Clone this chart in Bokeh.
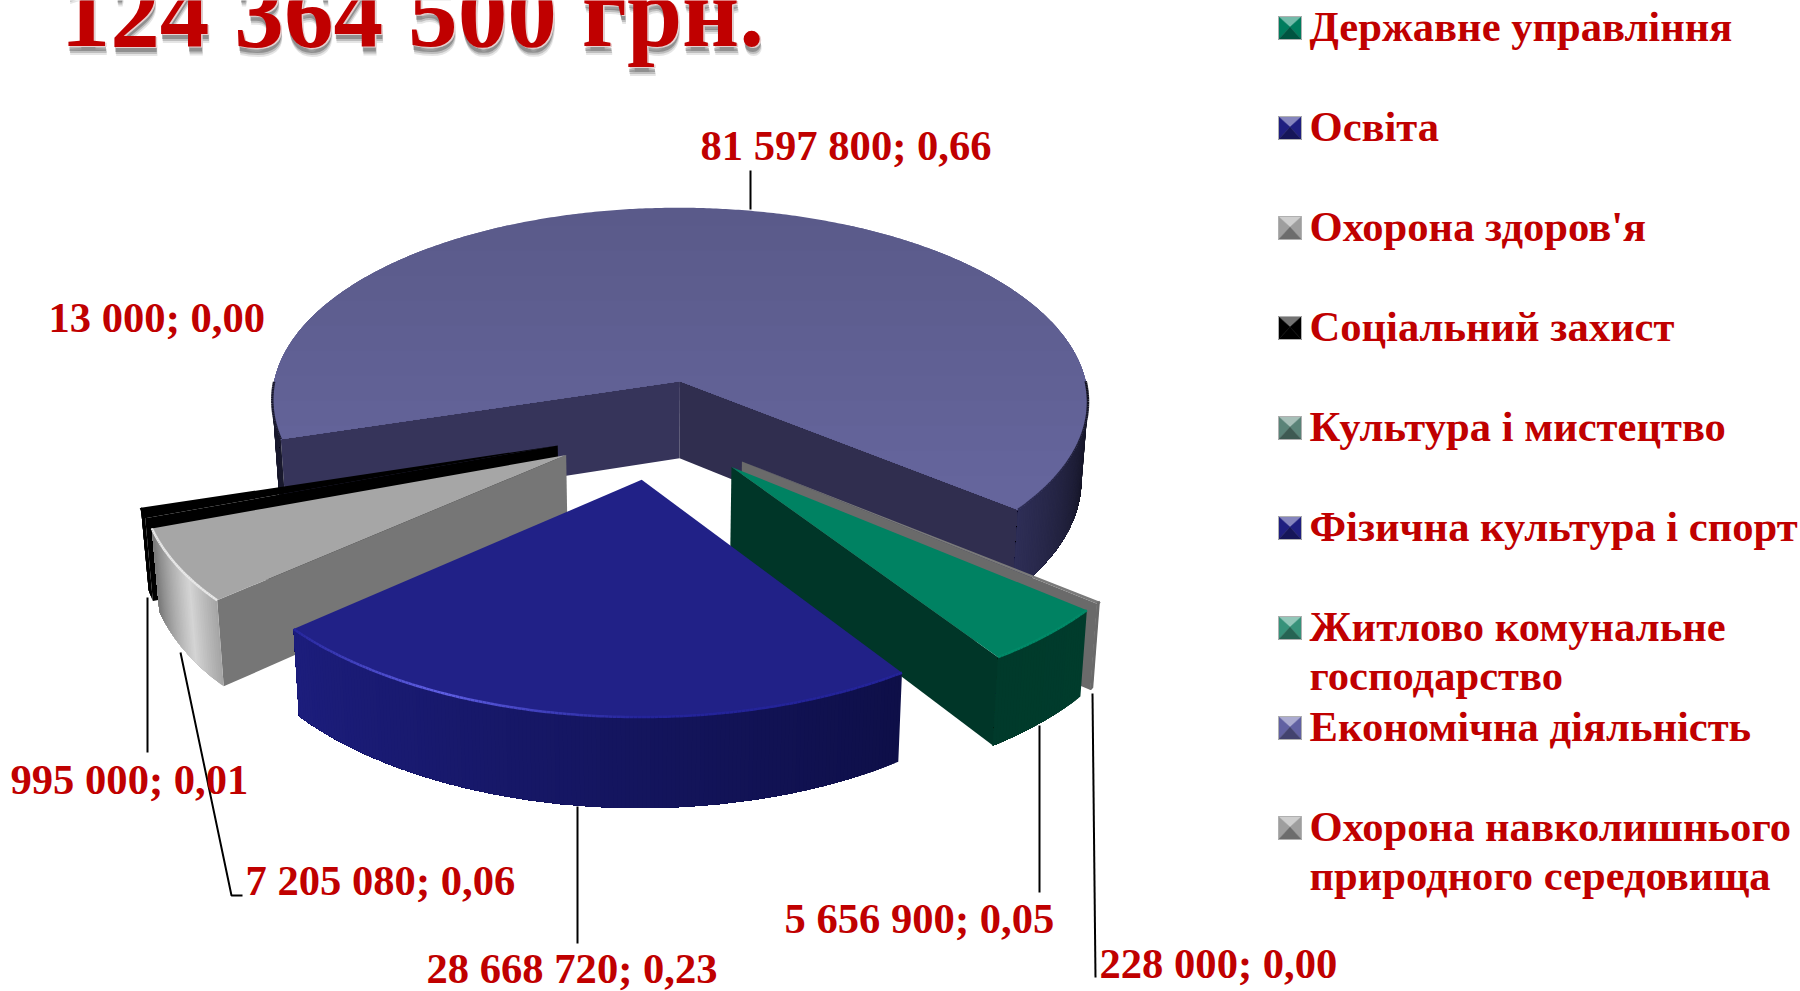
import math
from bokeh.plotting import figure
from bokeh.models import Range1d
from bokeh.core.properties import value
from bokeh.embed import file_html
from bokeh.resources import INLINE

# ---- data ----
title_text = "124 364 500 грн."
categories = ["Державне управління", "Освіта", "Охорона здоров'я", "Соціальний захист",
              "Культура і мистецтво", "Фізична культура і спорт", "Житлово комунальне\nгосподарство",
              "Економічна діяльність", "Охорона навколишнього\nприродного середовища"]
amounts = [5656900, 28668720, 7205080, 995000, 13000, 0, 0, 81597800, 228000]
shares = ["0,05", "0,23", "0,06", "0,01", "0,00", "0,00", "0,00", "0,66", "0,00"]
amount_texts = ["5 656 900", "28 668 720", "7 205 080", "995 000", "13 000", "0", "0", "81 597 800", "228 000"]

# ---- styles ----
RED = "#C00000"
SERIF = value("Liberation Serif")
top_cols = ["#008262", "#212187", "#A6A6A6", "#000000", "#5f9a8a", "#212187", "#008262", "#5E5D92", "#7a7a7a"]
face_cols = ["#003628", "#1a1a70", "#767676", "#000000", "#406058", "#1a1a70", "#003628", "#36345A", "#6a6a6a"]
rim_cols = [("#003c2c", "#003a2b"), ("#0e0f48", "#1c1d7c"), ("#a8a8a8", "#7a7a7a"), ("#000000", "#000000"),
            ("#406058", "#406058"), ("#1a1a70", "#1a1a70"), ("#003628", "#003628"),
            ("#15152a", "#34335A"), ("#6a6a6a", "#6a6a6a")]
marker_cols = ["#008262", "#212187", "#A6A6A6", "#000000", "#5f8a7e", "#212187", "#3a9a80", "#6666AA", "#A6A6A6"]

# ---- pie geometry (pixels on a 1800x991 canvas) ----
CX, CY, AX, BY, PERSP, EXPL, DEPTH = 655.0, 429.0, 416.0, 201.0, 0.105, 0.246, 79.0
START = 129.7
BOTTOM_IN = 0.985
NUDGE = {7: (5.5, -1.0), 0: (6.0, 0.0), 8: (6.0, 0.0)}
BASE_FIX = 0.36  # the svg text sits this many ems under the requested alphabetic line


def mix(c1, c2, t):
    t = max(0.0, min(1.0, t))
    a = [int(c1[i:i + 2], 16) for i in (1, 3, 5)]
    b = [int(c2[i:i + 2], 16) for i in (1, 3, 5)]
    return "#%02x%02x%02x" % tuple(int(round(u + (v - u) * t)) for u, v in zip(a, b))


def project(wx, wy):
    s = 1.0 / (1.0 + PERSP * wy)
    return CX + AX * wx * s, CY - BY * wy * s, s


def point(th, r, dx, dy):
    t = math.radians(th)
    return project(dx + r * math.sin(t), dy + r * math.cos(t))


def drop(px, py, s):
    return CX + (px - CX) * BOTTOM_IN, py + DEPTH * s


def clip_below(poly, yc):
    """part of a polygon with y >= yc"""
    out = []
    for k in range(len(poly)):
        a, b = poly[k], poly[(k + 1) % len(poly)]
        ina, inb = a[1] >= yc, b[1] >= yc
        if ina:
            out.append(a)
        if ina != inb:
            t = (yc - a[1]) / (b[1] - a[1])
            out.append((a[0] + (b[0] - a[0]) * t, yc))
    return out


total = sum(amounts)
spans = []
a = START
for v in amounts:
    d = v / total * 360.0
    spans.append((a, a + d))
    a += d

xs, ys, fills = [], [], []
hl_x, hl_y, hl_c, hl_w = [], [], [], []


def wall_colour(i, tm):
    if i == 2:
        if tm < 236:
            return mix("#a4a4a4", "#d4d4d4", (tm - 229) / 7)
        return mix("#d4d4d4", "#7c7c7c", (tm - 236) / 13)
    if i == 7:
        if tm < 180:
            return mix("#2e2e56", "#10101c", (129 - tm) / 36)
        return "#1a1a2e"
    lo, hi = rim_cols[i]
    a0, a1 = spans[i]
    return mix(lo, hi, (tm - a0) / max(a1 - a0, 1))


def edge_colour(i, tm):
    if i == 1:
        return mix("#24249a", "#6060e4", 1 - abs(tm - 205) / 25)
    if i == 2:
        return "#e8e8e8"
    if i == 0:
        return "#008a68"
    return wall_colour(i, tm)


def add(poly, col):
    xs.append([q[0] for q in poly])
    ys.append([q[1] for q in poly])
    fills.append(col)


def draw_slice(i):
    a0, a1 = spans[i]
    if a1 - a0 < 0.2:
        return
    mid = math.radians((a0 + a1) / 2)
    dx, dy = EXPL * math.sin(mid), EXPL * math.cos(mid)
    nx, ny = NUDGE.get(i, (0.0, 0.0))

    def P(t):
        q = point(t, 1.0, dx, dy)
        return (q[0] + nx, q[1] + ny, q[2])

    q0 = project(dx, dy)
    apex = (q0[0] + nx, q0[1] + ny, q0[2])
    n = max(4, int((a1 - a0) / 0.5))
    ths = [a0 + (a1 - a0) * k / n for k in range(n + 1)]
    rim = [P(t) for t in ths]
    # radial faces
    for normal, pt, shade in ((a0 - 90, rim[0], 0.0), (a1 + 90, rim[-1], 0.12 if i == 7 else 0.0)):
        if math.cos(math.radians(normal)) < 0:
            add([apex[:2], pt[:2], drop(pt[0], pt[1], pt[2]), drop(apex[0], apex[1], apex[2])],
                mix(face_cols[i], "#000000", shade))
    # rim wall: nested strips, each running to the end of the visible arc, so there are no seams
    vis = [k for k in range(n) if 90 <= ((ths[k] + ths[k + 1]) / 2 % 360) <= 270]
    runs = []
    for k in vis:
        if runs and runs[-1][-1] == k - 1:
            runs[-1].append(k)
        else:
            runs.append([k])
    for run in runs:
        last = run[-1] + 1
        for k in run:
            tm = (ths[k] + ths[k + 1]) / 2 % 360
            upper = [rim[j] for j in range(k, last + 1)]
            lower = [drop(q[0], q[1], q[2]) for q in upper][::-1]
            add([q[:2] for q in upper] + lower, wall_colour(i, tm))
    # top surface; the big slice is shaded by nested bands down the page
    top = [apex[:2]] + [q[:2] for q in rim]
    if i == 7:
        add(top, "#5A5A8A")
        for lev in range(225, 500, 25):
            part = clip_below(top, lev)
            if len(part) > 2:
                add(part, mix("#5A5A8A", "#66669E", (lev - 210) / 290))
    else:
        add(top, top_cols[i])
    # highlight along the upper rim edge
    for k in vis:
        hl_x.append([rim[k][0], rim[k + 1][0]])
        hl_y.append([rim[k][1], rim[k + 1][1]])
        hl_c.append(edge_colour(i, (ths[k] + ths[k + 1]) / 2 % 360))
        hl_w.append(2.5)


# painter's order: back slice first, blue last
for i in [7, 8, 0, 3, 4, 2, 1]:
    draw_slice(i)

p = figure(width=1800, height=991, output_backend="svg", toolbar_location=None,
           x_range=Range1d(0, 1800), y_range=Range1d(991, 0),
           min_border=0, outline_line_color=None, background_fill_color="white")
p.axis.visible = False
p.grid.visible = False

p.patches(xs, ys, fill_color=fills, line_color=None)
p.multi_line(hl_x, hl_y, line_color=hl_c, line_width=hl_w)

# ---- leaders ----
lead_x = [[750, 750], [147, 147], [180, 231, 242], [577, 577], [1039, 1039], [1092, 1095]]
lead_y = [[170, 209], [597, 752], [652, 895, 895], [806, 943], [725, 892], [693, 977]]
p.multi_line(lead_x, lead_y, line_color="#000000", line_width=2)

# ---- data labels ----
LAB = 42.6
label_idx = [7, 4, 3, 2, 1, 0, 8]
label_x = [700, 48, 10, 245, 426, 784, 1099]
label_base = [160, 332, 794, 895, 983, 933, 978]
label_y = [b - BASE_FIX * LAB for b in label_base]
label_t = [amount_texts[i] + "; " + shares[i] for i in label_idx]
p.text(label_x, label_y, text=label_t, text_font=SERIF, text_font_size=value("%gpx" % LAB),
       text_font_style="bold", text_color=RED, text_baseline="alphabetic", text_align="left")

# ---- title with soft shadow ----
TS = 99.3
TX, TY = 60, 48 - BASE_FIX * TS
for off, alpha in ((9, 0.14), (7, 0.25), (5, 0.4)):
    p.text([TX + off * 0.2], [TY + off], text=[title_text], text_font=SERIF, text_font_size=value("%gpx" % TS),
           text_font_style="bold", text_color="#4a4a4a", text_alpha=alpha, text_baseline="alphabetic")
p.text([TX + 1.5], [TY + 1], text=[title_text], text_font=SERIF, text_font_size=value("%gpx" % TS),
       text_font_style="bold", text_color="#e6d0d0", text_baseline="alphabetic")
p.text([TX], [TY], text=[title_text], text_font=SERIF, text_font_size=value("%gpx" % TS),
       text_font_style="bold", text_color=RED, text_baseline="alphabetic")

# ---- legend ----
LEG = 42.6
LEG_X, LEG_Y0, LEG_STEP, M, LEG_TX, LINE = 1278, 27.5, 100, 23, 1309, 49
mx, my, mc = [], [], []
tx, ty, tt = [], [], []
for i, name in enumerate(categories):
    yc = LEG_Y0 + LEG_STEP * i
    l, r, t, b = LEG_X, LEG_X + M, yc - M / 2, yc + M / 2
    c = marker_cols[i]
    cx_, cy_ = (l + r) / 2, yc - 1
    faces = [([(l, t), (r, t), (cx_, cy_)], mix(c, "#ffffff", 0.45)),
             ([(l, t), (l, b), (cx_, cy_)], mix(c, "#000000", 0.05)),
             ([(r, t), (r, b), (cx_, cy_)], mix(c, "#000000", 0.05)),
             ([(l, b), (r, b), (cx_, cy_)], mix(c, "#000000", 0.35))]
    for poly, col in faces:
        mx.append([q[0] for q in poly])
        my.append([q[1] for q in poly])
        mc.append(col)
    for j, line in enumerate(name.split("\n")):
        tx.append(LEG_TX)
        ty.append(yc + 14 + j * LINE - BASE_FIX * LEG)
        tt.append(line)
p.patches(mx, my, fill_color=mc, line_color=mc, line_width=0.5)
p.quad(left=[LEG_X] * 9, right=[LEG_X + M] * 9,
       top=[LEG_Y0 + LEG_STEP * i - M / 2 for i in range(9)], bottom=[LEG_Y0 + LEG_STEP * i + M / 2 for i in range(9)],
       fill_color=None, line_color="#b0b0b0", line_width=1)
p.text(tx, ty, text=tt, text_font=SERIF, text_font_size=value("%gpx" % LEG), text_font_style="bold",
       text_color=RED, text_baseline="alphabetic", text_align="left")

open("out.html", "w").write(file_html(p, INLINE))
